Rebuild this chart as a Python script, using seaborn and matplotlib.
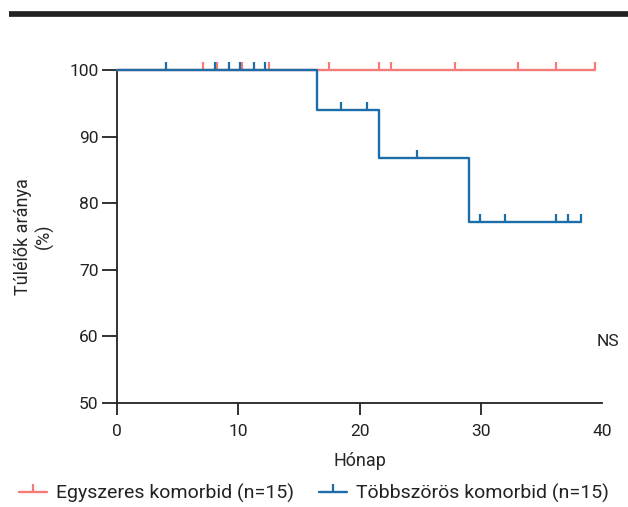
import numpy as np
import matplotlib
matplotlib.use("Agg")
import matplotlib.pyplot as plt
from matplotlib.path import Path
from matplotlib.lines import Line2D
import seaborn as sns

# Kaplan-Meier gorbe - ertekek a kepbol leolvasva
egy_ido = [0, 39.4]
egy_tulel = [100, 100]
egy_cenzor = [7.1, 8.2, 10.3, 12.5, 17.5, 21.6, 22.6, 27.9, 33.1, 36.2, 39.4]

tobb_ido = [0, 16.5, 21.6, 29.0, 38.3]
tobb_tulel = [100, 94.0, 86.8, 77.2, 77.2]
tobb_cenzor = [4.0, 8.05, 9.2, 10.1, 11.3, 12.2, 18.5, 20.6, 24.7,
               29.9, 32.0, 36.2, 37.2, 38.3]

cimkek = ["Egyszeres komorbid (n=15)", "Többszörös komorbid (n=15)"]
x_tickek = [0, 10, 20, 30, 40]
y_tickek = [50, 60, 70, 80, 90, 100]

PIROS = "#F47B77"
KEK = "#1B6DA9"

sns.set_style("ticks")
plt.rcParams["font.family"] = ["Roboto", "DejaVu Sans"]
plt.rcParams["axes.edgecolor"] = "#222222"
plt.rcParams["text.color"] = "#222222"
plt.rcParams["xtick.color"] = "#222222"
plt.rcParams["ytick.color"] = "#222222"

# felfele allo cenzor-jel
tick_jel = Path([(0, 0), (0, 1)], [Path.MOVETO, Path.LINETO])


def lepcso_ertek(ido, tulel, t):
    i = np.searchsorted(ido, t, side="right") - 1
    return np.array(tulel)[i]


fig = plt.figure(figsize=(6.28, 5.07), dpi=100)
ax = fig.add_axes([0.1868, 0.2057, 0.9586 - 0.1868, 0.6556])

for ido, tulel, cenzor, szin in [(egy_ido, egy_tulel, egy_cenzor, PIROS),
                                 (tobb_ido, tobb_tulel, tobb_cenzor, KEK)]:
    sns.lineplot(x=ido, y=tulel, ax=ax, color=szin, lw=1.7,
                 drawstyle="steps-post", estimator=None, sort=False,
                 legend=False, clip_on=False, zorder=3)
    cy = lepcso_ertek(ido, tulel, cenzor)
    ax.plot(cenzor, cy, ls="none", marker=tick_jel, markersize=11.5,
            markeredgewidth=1.6, color=szin, clip_on=False, zorder=3)

ax.set_xlim(0, 40)
ax.set_ylim(50, 100)
ax.set_xticks(x_tickek)
ax.set_yticks(y_tickek)
ax.tick_params(axis="x", length=8.6, width=1.3, pad=7, labelsize=12.5)
ax.tick_params(axis="y", length=10.5, width=1.3, pad=3, labelsize=12.5)
ax.xaxis.get_major_ticks()[-1].tick1line.set_visible(False)
for s in ["left", "bottom"]:
    ax.spines[s].set_linewidth(1.3)
sns.despine(ax=ax)

ax.set_xlabel("Hónap", fontsize=13, labelpad=9)
ax.set_ylabel("Túlélők aránya\n(%)", fontsize=13, labelpad=11,
              linespacing=1.2)
ax.text(41.4, 59.2, "NS", ha="right", va="center", fontsize=12.5,
        clip_on=False)

# fekete csik a tetejen
fig.add_artist(Line2D([9 / 628, 1], [0.9728, 0.9728], color="#222222",
                      lw=4.1, solid_capstyle="butt",
                      transform=fig.transFigure))

kezelok = [Line2D([], [], color=c, lw=1.7, marker=tick_jel, markersize=11.5,
                  markeredgewidth=1.6) for c in [PIROS, KEK]]
fig.legend(kezelok, cimkek, loc="center", bbox_to_anchor=(0.5, 0.026),
           ncol=2, frameon=False, fontsize=14, handlelength=1.45,
           handletextpad=0.45, columnspacing=1.3, borderaxespad=0)

fig.savefig("out.png", dpi=100)
